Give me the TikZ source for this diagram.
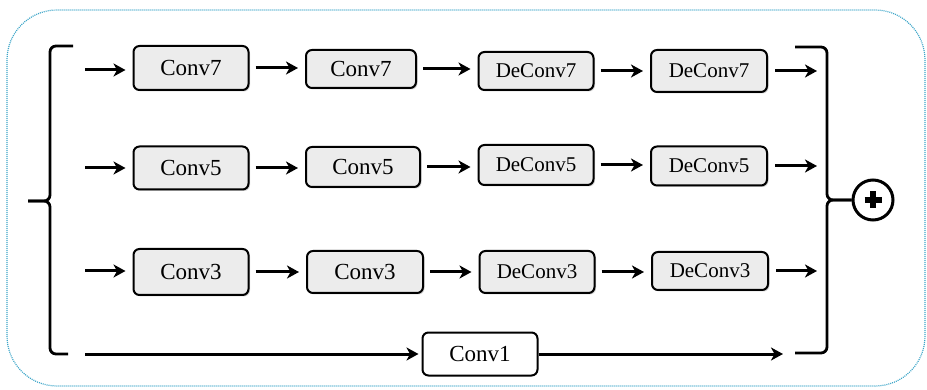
\documentclass[tikz,border=0pt]{standalone}
\usepackage{fontspec}
\setmainfont{Liberation Serif}
\usetikzlibrary{arrows.meta,shadows,calc}
\definecolor{framecol}{RGB}{60,165,200}
\definecolor{boxfill}{RGB}{236,236,236}
\tikzset{
  opbox/.style={draw=black, line width=2pt, rounded corners=6pt, fill=boxfill,
    inner sep=0pt, drop shadow={shadow xshift=1.5pt, shadow yshift=-1.5pt, opacity=0.35}},
  convtxt/.style={font=\rmfamily\fontsize{23}{25}\selectfont},
  deconvtxt/.style={font=\rmfamily\fontsize{21}{23}\selectfont},
  flow/.style={line width=3pt, -{Stealth[length=12pt,width=13pt,inset=3.5pt]}},
  bracket/.style={line width=2.8pt, rounded corners=6pt},
}
\begin{document}
\begin{tikzpicture}[x=1pt,y=-1pt]
\useasboundingbox (0,0) rectangle (927,390);
\draw[framecol, line width=1.2pt, dash pattern=on 1pt off 1pt, rounded corners=50pt] (7,10) rectangle (925,386);

% row 1
\node[opbox, convtxt, minimum width=115pt, minimum height=44pt] (a1) at (191,68) {Conv7};
\node[opbox, convtxt, minimum width=110pt, minimum height=38pt] (b1) at (361,69) {Conv7};
\node[opbox, deconvtxt, minimum width=115pt, minimum height=38pt] (c1) at (536,71) {DeConv7};
\node[opbox, deconvtxt, minimum width=116pt, minimum height=42pt] (d1) at (709,71) {DeConv7};
% row 2
\node[opbox, convtxt, minimum width=115pt, minimum height=43pt] (a2) at (191,168) {Conv5};
\node[opbox, convtxt, minimum width=114pt, minimum height=40pt] (b2) at (363,167) {Conv5};
\node[opbox, deconvtxt, minimum width=115pt, minimum height=40pt] (c2) at (536,165) {DeConv5};
\node[opbox, deconvtxt, minimum width=116pt, minimum height=39pt] (d2) at (709,166) {DeConv5};
% row 3
\node[opbox, convtxt, minimum width=115pt, minimum height=46pt] (a3) at (191,272) {Conv3};
\node[opbox, convtxt, minimum width=116pt, minimum height=42pt] (b3) at (365,272) {Conv3};
\node[opbox, deconvtxt, minimum width=115pt, minimum height=42pt] (c3) at (537,272) {DeConv3};
\node[opbox, deconvtxt, minimum width=116pt, minimum height=38pt] (d3) at (710,271) {DeConv3};
% row 4
\node[draw=black, line width=2pt, rounded corners=6pt, fill=white, inner sep=0pt,
      convtxt, minimum width=115pt, minimum height=43pt] (e4) at (480,354) {Conv1};

% input / output coordinates
\coordinate (in1) at (85,70);
\coordinate (in2) at (85,168);
\coordinate (in3) at (85,271);
\coordinate (in4) at (85,354);
\coordinate (out1) at (817,71);
\coordinate (out2) at (817,166);
\coordinate (out3) at (817,271);
\coordinate (out4) at (783,354);

% flows
\foreach \r in {1,2,3}{
  \draw[flow, shorten >=7pt] (in\r) -- (in\r -| a\r.west);
  \draw[flow, shorten <=6pt, shorten >=7pt] (a\r.east) -- (a\r.east -| b\r.west);
  \draw[flow, shorten <=6pt, shorten >=7pt] (b\r.east) -- (b\r.east -| c\r.west);
  \draw[flow, shorten <=6pt, shorten >=7pt] (c\r.east) -- (c\r.east -| d\r.west);
  \draw[flow, shorten <=7pt] (d\r.east) -- (d\r.east -| out\r);
}
\draw[flow, shorten >=3pt] (in4) -- (e4.west);
\draw[flow] (e4.east) -- (out4);

% left bracket
\coordinate (ltip) at (28,201);
\draw[bracket] (73,46) -- (50,46) -- (50,201) -- (ltip);
\draw[bracket] (68,354) -- (50,354) -- (50,201) -- (ltip);

% sum node
\node[circle, draw=black, line width=3pt, minimum size=40pt, inner sep=0pt, fill=white] (sum) at (873,200) {};
\draw[line width=5.5pt] ($(sum.center)+(-8.5,0)$) -- ($(sum.center)+(8.5,0)$);
\draw[line width=5.5pt] ($(sum.center)+(0,-8.5)$) -- ($(sum.center)+(0,8.5)$);

% right bracket
\draw[bracket] (795,47) -- (827,47) -- (827,200) -- (sum.west);
\draw[bracket] (795,353) -- (827,353) -- (827,200) -- (sum.west);
\end{tikzpicture}
\end{document}
